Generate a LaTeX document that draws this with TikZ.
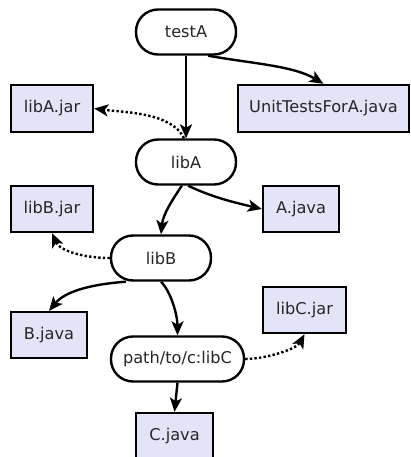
\documentclass[tikz,border=0pt]{standalone}
\usepackage{fontspec}
\setmainfont{DejaVu Sans}
\usetikzlibrary{arrows.meta}
\definecolor{boxfill}{HTML}{E4E4F8}
\tikzset{
  base/.style={draw=black, line width=2.4pt, inner sep=0pt, font=\fontsize{16.2}{19}\selectfont, text=black!85},
  rnode/.style={base, rectangle, rounded corners=22pt, fill=white, minimum height=45pt},
  fbox/.style={base, rectangle, fill=boxfill, minimum height=46pt},
  edge/.style={line width=2.4pt, -{Stealth[length=14pt,width=12pt,inset=3.5pt]}},
  dotedge/.style={edge, dash pattern=on 2.4pt off 2.2pt},
}
\begin{document}
\begin{tikzpicture}[x=1pt,y=-1pt]
\useasboundingbox (0,0) rectangle (411,457);
\node[rnode, minimum width=100pt] (testA) at (186,32) {testA};
\node[rnode, minimum width=100pt] (libA) at (186,162) {libA};
\node[rnode, minimum width=100pt] (libB) at (161,258) {libB};
\node[rnode, minimum width=133pt] (libC) at (177.5,359) {path/to/c:libC};
\node[fbox, minimum width=82pt, minimum height=47pt] (libAjar) at (52,108.5) {libA.jar};
\node[fbox, minimum width=171pt, minimum height=47pt] (ut) at (323.5,108.5) {UnitTestsForA.java};
\node[fbox, minimum width=82pt] (libBjar) at (52,209) {libB.jar};
\node[fbox, minimum width=76pt] (ajava) at (301,209) {A.java};
\node[fbox, minimum width=76pt] (bjava) at (49,335) {B.java};
\node[fbox, minimum width=83pt] (libCjar) at (304.5,310) {libC.jar};
\node[fbox, minimum width=77pt] (cjava) at (174.5,436) {C.java};

\draw[edge] (testA.south) -- (libA.north);
\draw[edge] (testA.-47) .. controls +(45,8) and +(-30,-18) .. (ut.north);
\draw[dotedge] (libA.95) .. controls +(-12,-26) and +(30,4) .. (libAjar.east);
\draw[edge] (libA.-100) .. controls +(-10,15) and +(2,-20) .. (libB.north);
\draw[edge] (libA.-85) .. controls +(25,12) and +(-25,-6) .. (ajava.west);
\draw[dotedge] (libB.west) .. controls +(-25,0) and +(8,18) .. (libBjar.south);
\draw[edge] (libB.-146) .. controls +(-40,3) and +(15,-18) .. (bjava.north);
\draw[edge] (libB.south) .. controls +(10,10) and +(0,-20) .. (libC.north);
\draw[dotedge] (libC.east) .. controls +(20,0) and +(-8,15) .. (libCjar.south);
\draw[edge] (libC.south) -- (cjava.north);
\end{tikzpicture}
\end{document}
